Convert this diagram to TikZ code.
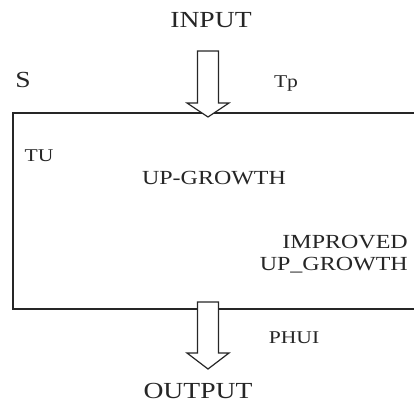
\documentclass[tikz,border=0pt]{standalone}
\usepackage{fontspec}
\setmainfont[FakeStretch=1.2]{Liberation Serif}
\usepackage{tikz}
\usetikzlibrary{positioning,calc}

\begin{document}
\begin{tikzpicture}[x=1pt,y=-1pt,
    lbl/.style={inner sep=0pt,text=black!85},
    big/.style={lbl,font=\fontsize{23}{25}\selectfont},
    mid/.style={lbl,font=\fontsize{20}{22}\selectfont},
    small/.style={lbl,font=\fontsize{18}{20}\selectfont},
    fatarrow/.style={draw=black!85,fill=white,line width=1.2pt,line join=miter}]
  \useasboundingbox (0,0) rectangle (414,405);
  % System box (open on the right)
  \draw[black!85,line width=1.2pt] (414,113) -- (13,113) -- (13,309) -- (414,309);
  % Input arrow
  \node[big] (input) at (211,20) {INPUT};
  \coordinate (intop) at (208,51);
  \coordinate (intip) at (208,117);
  \draw[fatarrow] (intop) ++(-10.5,0) -- ++(0,52) -- ++(-10.5,0) -- (intip)
    -- ++(21,-14) -- ++(-10.5,0) -- ++(0,-52) -- cycle;
  % Output arrow
  \coordinate (outtop) at (208,302);
  \coordinate (outtip) at (208,369);
  \draw[fatarrow] (outtop) ++(-10.5,0) -- ++(0,51) -- ++(-10.5,0) -- (outtip)
    -- ++(21,-16) -- ++(-10.5,0) -- ++(0,-51) -- cycle;
  \node[big] (output) at (198,391) {OUTPUT};
  % Labels
  \node[big] (s) at (23,80) {S};
  \node[small] (tp) at (286,84) {Tp};
  \node[small] (tu) at (39,156) {TU};
  \node[mid] (upg) at (214,178) {UP-GROWTH};
  \node[mid,align=right,anchor=east] (iupg) at (408,254) {IMPROVED\\UP\_GROWTH};
  \node[small] (phui) at (294,338) {PHUI};
\end{tikzpicture}
\end{document}
